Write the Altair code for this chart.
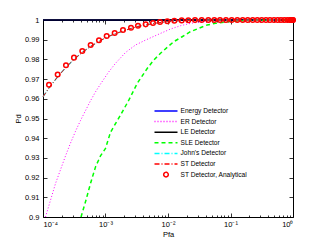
import altair as alt
import pandas as pd

# ---------------- data ----------------
SERIES = ["Energy Detector", "ER Detector", "LE Detector", "SLE Detector",
          "John's Detector", "ST Detector", "ST Detector, Analytical"]
COLORS = ["#0000ff", "#ff00ff", "#000000", "#00ff00", "#00ffff", "#ff0000", "#ff0000"]
DASHES = [[1, 0], [1, 2], [1, 0], [4, 3], [5, 2, 1, 2], [5, 2, 1, 2], [1, 0]]
LINE_PATH = "M-2.3,0H2.3"
CIRCLE_PATH = "M0.46,0A0.46,0.46,0,1,1,-0.46,0A0.46,0.46,0,1,1,0.46,0Z"
SHAPES = [LINE_PATH] * 6 + [CIRCLE_PATH]

pfa_energy = [1e-4, 1.0]
pd_energy = [1.0, 1.0]

pfa_le = [1e-4, 1.0]
pd_le = [1.0, 1.0]

pfa_er = [1.096e-4, 1.318e-4, 1.585e-4, 1.905e-4, 2.291e-4, 2.754e-4, 3.311e-4,
          3.981e-4, 4.786e-4, 5.754e-4, 6.918e-4, 8.318e-4, 1.117e-3, 1.445e-3,
          2.089e-3, 3.020e-3, 4.365e-3, 7.586e-3, 1.096e-2, 1.585e-2, 2.291e-2,
          3.981e-2, 0.1, 1.0]
pd_er = [0.900, 0.9085, 0.917, 0.924, 0.931, 0.9375, 0.9435, 0.949, 0.954,
         0.959, 0.9635, 0.9675, 0.9735, 0.978, 0.9835, 0.9873, 0.9898, 0.9932,
         0.9954, 0.9971, 0.9983, 0.9994, 0.9999, 1.0]

pfa_sle = [4.055e-4, 4.786e-4, 5.754e-4, 6.918e-4, 8.318e-4, 1.0e-3, 1.202e-3,
           1.445e-3, 1.738e-3, 2.360e-3, 3.214e-3, 4.645e-3, 5.929e-3, 7.586e-3,
           9.705e-3, 1.239e-2, 1.687e-2, 2.291e-2, 3.112e-2, 4.236e-2, 5.754e-2,
           0.1, 0.2089, 1.0]
pd_sle = [0.900, 0.9077, 0.917, 0.9254, 0.931, 0.9348, 0.943, 0.9474, 0.9517,
          0.9593, 0.9678, 0.9754, 0.9797, 0.9831, 0.9861, 0.989, 0.9915, 0.9941,
          0.9958, 0.9975, 0.9983, 0.9993, 0.9998, 1.0]

pfa_st = [1e-4, 1.247e-4, 1.718e-4, 2.333e-4, 3.133e-4, 4.256e-4, 5.794e-4,
          7.87e-4, 1.045e-3, 1.403e-3, 1.905e-3, 2.559e-3, 3.311e-3, 4.395e-3,
          5.754e-3, 7.447e-3, 9.75e-3, 1.262e-2, 2e-2, 4e-2, 1.0]
pd_st = [0.961, 0.9655, 0.9712, 0.976, 0.980, 0.9836, 0.9866, 0.9891, 0.9913,
         0.9929, 0.9944, 0.9957, 0.9967, 0.9975, 0.9982, 0.9987, 0.9992, 0.9995,
         0.9998, 0.99995, 1.0]

pfa_johns = pfa_st
pd_johns = pd_st

pfa_circ = [1.247e-4, 1.718e-4, 2.333e-4, 3.133e-4, 4.256e-4, 5.794e-4, 7.870e-4,
            1.045e-3, 1.403e-3, 1.905e-3, 2.559e-3, 3.311e-3, 4.395e-3, 5.754e-3,
            7.447e-3, 9.750e-3, 1.262e-2, 1.656e-2, 2.113e-2, 2.704e-2, 3.459e-2,
            4.416e-2, 5.508e-2, 6.792e-2, 8.472e-2, 0.1045, 0.1285, 0.1567, 0.1884,
            0.2265, 0.2685, 0.3155, 0.3698, 0.4285, 0.4966, 0.5689, 0.6427, 0.7261,
            0.8110, 0.8954, 0.93, 0.96, 0.9886, 1.0]
pd_circ = [0.9671, 0.9723, 0.977, 0.9809, 0.9843, 0.9873, 0.9897, 0.9919, 0.9934,
           0.9949, 0.9961, 0.9971, 0.9978, 0.9985, 0.999, 0.9994, 0.9996, 0.9998,
           0.9999] + [1.0] * 25

X_TICKS = [m * 10.0 ** k for k in range(-4, 0) for m in range(1, 10)] + [1.0]
X_LABELS = [1e-4, 1e-3, 1e-2, 1e-1, 1.0]
Y_TICKS = [0.9, 0.91, 0.92, 0.93, 0.94, 0.95, 0.96, 0.97, 0.98, 0.99, 1.0]

W, H = 250, 197

# ---------------- scales ----------------
xscale = alt.Scale(type="log", domain=[1e-4, 1.0], nice=False)
yscale = alt.Scale(domain=[0.9, 1.0], zero=False, nice=False)
cscale = alt.Scale(domain=SERIES, range=COLORS)
dscale = alt.Scale(domain=SERIES, range=DASHES)
sscale = alt.Scale(domain=SERIES, range=SHAPES)

major = "abs(log(datum.value)/LN10 - round(log(datum.value)/LN10)) < 0.001"

ax_label_x = alt.Axis(values=X_LABELS, ticks=False, domain=False, grid=False,
                      labelPadding=3, title="Pfa", titlePadding=3,
                      labelExpr="['10\u207b\u2074','10\u207b\u00b3','10\u207b\u00b2','10\u207b\u00b9','10\u2070'][round(log(datum.value)/LN10)+4]")
ax_label_y = alt.Axis(values=Y_TICKS, ticks=False, domain=False, grid=False,
                      labelPadding=4, format=".2~f", title="Pd", titlePadding=2)
ax_tick_bottom = alt.Axis(orient="top", offset=-H, values=X_TICKS, labels=False,
                          domain=False, grid=False, title="",
                          tickSize={"condition": {"test": major, "value": 4}, "value": 2})
ax_tick_top = alt.Axis(orient="bottom", offset=-H, values=X_TICKS, labels=False,
                       domain=False, grid=False, title="",
                       tickSize={"condition": {"test": major, "value": 4}, "value": 2})
ax_tick_left = alt.Axis(orient="right", offset=-W, values=Y_TICKS, labels=False,
                        domain=False, grid=False, title="", tickSize=4)
ax_tick_right = alt.Axis(orient="left", offset=-W, values=Y_TICKS, labels=False,
                         domain=False, grid=False, title="", tickSize=4)


def line_layer(name, pfa, pd_, width, xaxis=None, yaxis=None):
    df = pd.DataFrame({"pfa": pfa, "pd": pd_, "series": name})
    xa = xaxis if xaxis is not None else alt.Axis(labels=False, ticks=False, domain=False, grid=False, title="")
    ya = yaxis if yaxis is not None else alt.Axis(labels=False, ticks=False, domain=False, grid=False, title="")
    return alt.Chart(df).mark_line(strokeWidth=width).encode(
        x=alt.X("pfa:Q", scale=xscale, axis=xa),
        y=alt.Y("pd:Q", scale=yscale, axis=ya),
        color=alt.Color("series:N", scale=cscale, title=""),
        strokeDash=alt.StrokeDash("series:N", scale=dscale, title=""),
    )


l_energy = line_layer(SERIES[0], pfa_energy, pd_energy, 1.5, ax_label_x, ax_label_y)
l_er = line_layer(SERIES[1], pfa_er, pd_er, 1.0, ax_tick_bottom, ax_tick_left)
l_le = line_layer(SERIES[2], pfa_le, pd_le, 1.3, ax_tick_top, ax_tick_right)
l_sle = line_layer(SERIES[3], pfa_sle, pd_sle, 1.5)
l_john = line_layer(SERIES[4], pfa_johns, pd_johns, 1.3)
l_st = line_layer(SERIES[5], pfa_st, pd_st, 1.0)

df_c = pd.DataFrame({"pfa": pfa_circ, "pd": pd_circ, "series": SERIES[6]})
l_circ = alt.Chart(df_c).mark_point(filled=False, size=100, strokeWidth=1.5, opacity=1).encode(
    x=alt.X("pfa:Q", scale=xscale, axis=alt.Axis(labels=False, ticks=False, domain=False, grid=False, title="")),
    y=alt.Y("pd:Q", scale=yscale, axis=alt.Axis(labels=False, ticks=False, domain=False, grid=False, title="")),
    color=alt.Color("series:N", scale=cscale, title=""),
    shape=alt.Shape("series:N", scale=sscale, title=""),
)

chart = alt.layer(l_energy, l_er, l_le, l_sle, l_john, l_st, l_circ).resolve_axis(
    x="independent", y="independent"
).properties(
    width=W, height=H,
    autosize=alt.AutoSizeParams(type="none"),
    padding={"left": 35, "top": 12, "right": 20, "bottom": 22},
).configure(
    font="Liberation Sans",
).configure_view(
    stroke="#000000", strokeWidth=1,
).configure_axis(
    labelFontSize=7.5, titleFontSize=7.5, titleFontWeight="normal",
    labelColor="#000000", titleColor="#000000", tickColor="#000000", tickWidth=0.8,
).configure_legend(
    orient="none", legendX=117, legendY=85, labelFontSize=6.6, labelColor="#000000",
    symbolSize=100, symbolStrokeWidth=1.5, labelOffset=8.5, rowPadding=0.6,
    padding=0, titleFontSize=1, titlePadding=0,
)

chart.save("out.html", embed_options={"renderer": "svg", "actions": False})
